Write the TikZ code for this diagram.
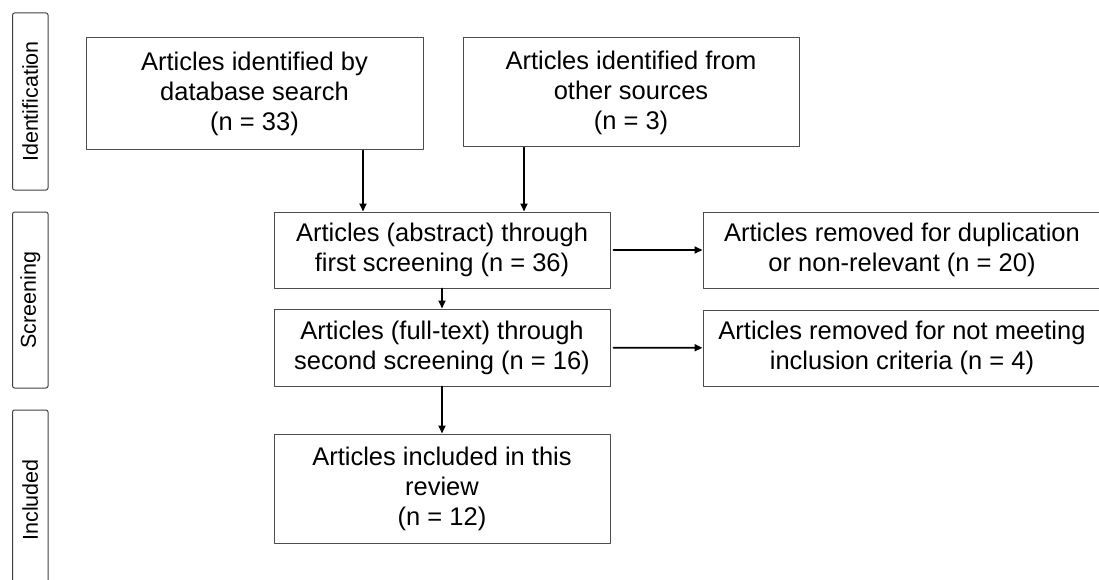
\documentclass[tikz,border=0pt]{standalone}
\usepackage{fontspec}
\setmainfont{Liberation Sans}
\usetikzlibrary{arrows.meta}
\begin{document}
\begin{tikzpicture}[x=1pt,y=-1pt,line cap=round,line join=round,
    box/.style={draw=black!70,line width=1pt,align=center,inner sep=0pt,
      font=\fontsize{25.5}{30}\selectfont},
    phase/.style={draw=black!75,line width=1pt,rounded corners=2pt,rotate=90,
      minimum height=35.4pt,inner sep=0pt,font=\fontsize{21.5}{24}\selectfont},
    flow/.style={line width=1.8pt,-{Triangle[length=8pt,width=7pt]}}]
    \useasboundingbox (0,0) rectangle (1099,580);

    % phase labels on the left
    \node[phase,minimum width=177pt] (ident) at (30.3,101.5) {Identification};
    \node[phase,minimum width=176pt] (screen) at (30.3,300) {Screening};
    \node[phase,minimum width=180pt] (incl) at (30.3,500) {Included};

    % identification
    \node[box,minimum width=337pt,minimum height=112pt] (db) at (254.5,94)
      {Articles identified by\\database search\\(n = 33)};
    \node[box,minimum width=336pt,minimum height=109pt] (other) at (631,92.5)
      {Articles identified from\\other sources\\(n = 3)};

    % screening
    \node[box,minimum width=336pt,minimum height=76pt] (first) at (442,250)
      {Articles (abstract) through\\first screening (n = 36)};
    \node[box,minimum width=336pt,minimum height=77pt] (second) at (442,347.5)
      {Articles (full-text) through\\second screening (n = 16)};
    \node[box,minimum width=398pt,minimum height=76pt] (dup) at (902,250)
      {Articles removed for duplication\\or non-relevant (n = 20)};
    \node[box,minimum width=398pt,minimum height=76pt] (crit) at (902,348)
      {Articles removed for not meeting\\inclusion criteria (n = 4)};

    % included
    \node[box,minimum width=336pt,minimum height=109pt] (final) at (442,488.5)
      {Articles included in this\\review\\(n = 12)};

    % arrows
    \draw[flow] ([xshift=108.5pt]db.south) coordinate (dbout) -- (dbout |- first.north);
    \draw[flow] ([xshift=-107pt]other.south) coordinate (otherout) -- (otherout |- first.north);
    \draw[flow] (first) -- (second);
    \draw[flow] (second) -- (final);
    \draw[flow,shorten <=3pt] (first) -- (dup);
    \draw[flow,shorten <=3pt] (second) -- (crit);
  \end{tikzpicture}
\end{document}
